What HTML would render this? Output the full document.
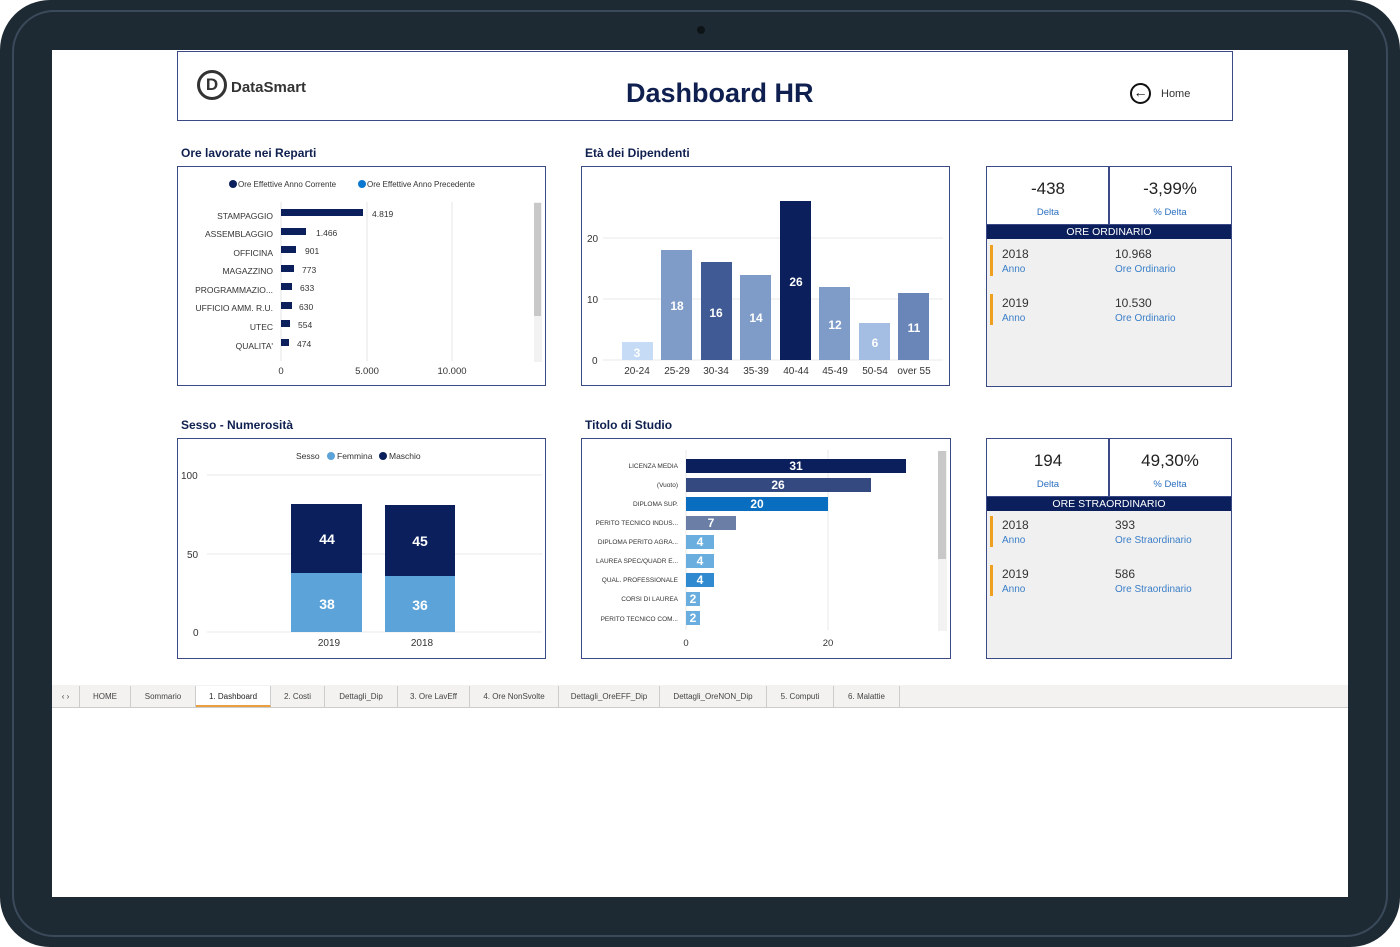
<!DOCTYPE html><html><head><meta charset="utf-8"><style>
*{margin:0;padding:0;box-sizing:border-box}
body{width:1400px;height:947px;background:#fff;position:relative;overflow:hidden;font-family:"Liberation Sans",sans-serif;color:#1a2a5a}
.a{position:absolute}
.box{position:absolute;border:1.5px solid #3b4a86;background:#fff}
.t{position:absolute;font-weight:bold;font-size:12px;color:#0f1f4f}
.sm{font-size:9px;color:#333}
.tab{position:absolute;top:686px;height:21px;font-size:8px;color:#444;text-align:center;line-height:21px;border-right:1px solid #ccc}
</style></head><body>
<div class="a" style="left:0;top:0;width:1400px;height:947px;background:#1e2a33;border-radius:50px"></div>
<div class="a" style="left:12px;top:10px;width:1376px;height:927px;border:2px solid #3a4a5a;border-radius:42px"></div>
<div class="a" style="left:697px;top:26px;width:8px;height:8px;border-radius:50%;background:#0d1418"></div>
<div class="a" style="left:52px;top:50px;width:1296px;height:847px;background:#fff"></div>

<div class="box" style="left:177px;top:51px;width:1056px;height:70px"></div>
<div class="a" style="left:197px;top:70px;width:30px;height:30px;border:3px solid #333;border-radius:50%;font-weight:bold;font-size:17px;text-align:center;line-height:24px;color:#333">D</div>
<div class="a" style="left:231px;top:79px;font-weight:bold;font-size:15px;color:#333">DataSmart</div>
<div class="a" style="left:626px;top:78px;font-weight:bold;font-size:27px;color:#0f1f4f">Dashboard HR</div>
<div class="a" style="left:1130px;top:83px;width:21px;height:21px;border:2.5px solid #111;border-radius:50%;font-size:14px;line-height:15px;text-align:center;font-weight:bold;color:#111">←</div>
<div class="a" style="left:1161px;top:88px;font-size:11px;color:#333">Home</div>

<div class="t" style="left:181px;top:146px">Ore lavorate nei Reparti</div>
<div class="t" style="left:585px;top:146px">Età dei Dipendenti</div>
<div class="t" style="left:181px;top:418px">Sesso - Numerosità</div>
<div class="t" style="left:585px;top:418px">Titolo di Studio</div>

<!-- Ore chart -->
<div class="box" style="left:177px;top:166px;width:369px;height:220px"></div>
<svg class="a" style="left:177px;top:166px" width="369" height="220" font-family="Liberation Sans" font-size="8.5" fill="#333">
<circle cx="56" cy="18" r="4" fill="#0a1f5c"/><text x="61" y="21" font-size="8">Ore Effettive Anno Corrente</text>
<circle cx="185" cy="18" r="4" fill="#0a78d0"/><text x="190" y="21" font-size="8">Ore Effettive Anno Precedente</text>
<g stroke="#e5e5e5"><line x1="104" y1="36" x2="104" y2="195"/><line x1="190" y1="36" x2="190" y2="195"/><line x1="275" y1="36" x2="275" y2="195"/></g>
<rect x="357" y="36" width="8" height="160" fill="#f2f2f2"/><rect x="357" y="37" width="7" height="113" fill="#c8c8c8"/>
<g fill="#0a1f5c"><rect x="104" y="43" width="82" height="7"/><rect x="104" y="62" width="25" height="7"/><rect x="104" y="80" width="15" height="7"/><rect x="104" y="99" width="13" height="7"/><rect x="104" y="117" width="11" height="7"/><rect x="104" y="136" width="11" height="7"/><rect x="104" y="154" width="9" height="7"/><rect x="104" y="173" width="8" height="7"/></g>
<g text-anchor="end"><text x="96" y="53">STAMPAGGIO</text><text x="96" y="71">ASSEMBLAGGIO</text><text x="96" y="90">OFFICINA</text><text x="96" y="108">MAGAZZINO</text><text x="96" y="127">PROGRAMMAZIO...</text><text x="96" y="145">UFFICIO AMM. R.U.</text><text x="96" y="164">UTEC</text><text x="96" y="183">QUALITA'</text></g>
<text x="195" y="51">4.819</text><text x="139" y="70">1.466</text><text x="128" y="88">901</text><text x="125" y="107">773</text><text x="123" y="125">633</text><text x="122" y="144">630</text><text x="121" y="162">554</text><text x="120" y="181">474</text>
<g text-anchor="middle" font-size="9.5"><text x="104" y="208">0</text><text x="190" y="208">5.000</text><text x="275" y="208">10.000</text></g>
</svg>

<!-- Eta chart -->
<div class="box" style="left:581px;top:166px;width:369px;height:220px"></div>
<svg class="a" style="left:581px;top:166px" width="369" height="220" font-family="Liberation Sans" font-size="10" fill="#333">
<g stroke="#e8e8e8"><line x1="22" y1="72" x2="362" y2="72"/><line x1="22" y1="133" x2="362" y2="133"/><line x1="22" y1="194" x2="362" y2="194"/></g>
<text x="6" y="76">20</text><text x="6" y="137">10</text><text x="11" y="198">0</text>
<rect x="41" y="176" width="31" height="18" fill="#c6dbf5"/>
<rect x="80" y="84" width="31" height="110" fill="#7f9cc8"/>
<rect x="120" y="96" width="31" height="98" fill="#3f5a94"/>
<rect x="159" y="109" width="31" height="85" fill="#7f9cc8"/>
<rect x="199" y="35" width="31" height="159" fill="#0a1f5c"/>
<rect x="238" y="121" width="31" height="73" fill="#7f9cc8"/>
<rect x="278" y="157" width="31" height="37" fill="#a4bde3"/>
<rect x="317" y="127" width="31" height="67" fill="#6a86b8"/>
<g fill="#fff" font-size="12" font-weight="bold" text-anchor="middle"><text x="56" y="191">3</text><text x="96" y="144">18</text><text x="135" y="151">16</text><text x="175" y="156">14</text><text x="215" y="120">26</text><text x="254" y="163">12</text><text x="294" y="181">6</text><text x="333" y="166">11</text></g>
<g text-anchor="middle"><text x="56" y="208">20-24</text><text x="96" y="208">25-29</text><text x="135" y="208">30-34</text><text x="175" y="208">35-39</text><text x="215" y="208">40-44</text><text x="254" y="208">45-49</text><text x="294" y="208">50-54</text><text x="333" y="208">over 55</text></g>
</svg>

<!-- Sesso -->
<div class="box" style="left:177px;top:438px;width:369px;height:221px"></div>
<svg class="a" style="left:177px;top:438px" width="369" height="221" font-family="Liberation Sans" font-size="10" fill="#333">
<text x="119" y="21" font-size="8.5">Sesso</text><circle cx="154" cy="18" r="4" fill="#5ba3d9"/><text x="160" y="21" font-size="8.5">Femmina</text><circle cx="206" cy="18" r="4" fill="#0a1f5c"/><text x="212" y="21" font-size="8.5">Maschio</text>
<g stroke="#e8e8e8"><line x1="30" y1="37" x2="365" y2="37"/><line x1="30" y1="116" x2="365" y2="116"/><line x1="30" y1="194" x2="365" y2="194"/></g>
<text x="4" y="41">100</text><text x="10" y="120">50</text><text x="16" y="198">0</text>
<rect x="114" y="135" width="71" height="59" fill="#5ba3d9"/><rect x="114" y="66" width="71" height="69" fill="#0a1f5c"/>
<rect x="208" y="138" width="70" height="56" fill="#5ba3d9"/><rect x="208" y="67" width="70" height="71" fill="#0a1f5c"/>
<g fill="#fff" font-size="14" font-weight="bold" text-anchor="middle"><text x="150" y="106">44</text><text x="150" y="171">38</text><text x="243" y="108">45</text><text x="243" y="172">36</text></g>
<g text-anchor="middle"><text x="152" y="208">2019</text><text x="245" y="208">2018</text></g>
</svg>

<!-- Titolo -->
<div class="box" style="left:581px;top:438px;width:370px;height:221px"></div>
<svg class="a" style="left:581px;top:438px" width="370" height="221" font-family="Liberation Sans" font-size="6.5" fill="#333">
<g stroke="#e8e8e8"><line x1="105" y1="12" x2="105" y2="192"/><line x1="247" y1="12" x2="247" y2="192"/></g>
<rect x="357" y="13" width="9" height="180" fill="#f2f2f2"/><rect x="357" y="13" width="8" height="108" fill="#c8c8c8"/>
<rect x="105" y="21" width="220" height="14" fill="#0a1f5c"/>
<rect x="105" y="40" width="185" height="14" fill="#34497f"/>
<rect x="105" y="59" width="142" height="14" fill="#0a6ec0"/>
<rect x="105" y="78" width="50" height="14" fill="#6a7ea6"/>
<rect x="105" y="97" width="28" height="14" fill="#6aaee0"/>
<rect x="105" y="116" width="28" height="14" fill="#6aaee0"/>
<rect x="105" y="135" width="28" height="14" fill="#2f8ad0"/>
<rect x="105" y="154" width="14" height="14" fill="#6aaee0"/>
<rect x="105" y="173" width="14" height="14" fill="#6aaee0"/>
<g fill="#fff" font-size="12" font-weight="bold" text-anchor="middle"><text x="215" y="32">31</text><text x="197" y="51">26</text><text x="176" y="70">20</text><text x="130" y="89">7</text><text x="119" y="108">4</text><text x="119" y="127">4</text><text x="119" y="146">4</text><text x="112" y="165">2</text><text x="112" y="184">2</text></g>
<g text-anchor="end"><text x="97" y="30">LICENZA MEDIA</text><text x="97" y="49">(Vuoto)</text><text x="97" y="68">DIPLOMA SUP.</text><text x="97" y="87">PERITO TECNICO INDUS...</text><text x="97" y="106">DIPLOMA PERITO AGRA...</text><text x="97" y="125">LAUREA SPEC/QUADR E...</text><text x="97" y="144">QUAL. PROFESSIONALE</text><text x="97" y="163">CORSI DI LAUREA</text><text x="97" y="183">PERITO TECNICO COM...</text></g>
<g text-anchor="middle" font-size="9.5"><text x="105" y="208">0</text><text x="247" y="208">20</text></g>
</svg>

<!-- KPI 1 -->
<div class="box" style="left:986px;top:166px;width:246px;height:221px;background:#f0f0f0"></div>
<div class="a" style="left:987px;top:167px;width:244px;height:58px;background:#fff;border-bottom:1.5px solid #3b4a86"></div>
<div class="a" style="left:1108px;top:167px;width:1.5px;height:58px;background:#3b4a86"></div>
<div class="a" style="left:987px;top:179px;width:122px;text-align:center;font-size:17px;color:#222">-438</div>
<div class="a" style="left:1109px;top:179px;width:122px;text-align:center;font-size:17px;color:#222">-3,99%</div>
<div class="a" style="left:987px;top:207px;width:122px;text-align:center;font-size:9.5px;color:#2a6fc0">Delta</div>
<div class="a" style="left:1109px;top:207px;width:122px;text-align:center;font-size:9.5px;color:#2a6fc0">% Delta</div>
<div class="a" style="left:987px;top:225px;width:244px;height:14px;background:#0a1f5c;color:#fff;font-size:10.5px;text-align:center;line-height:14px">ORE ORDINARIO</div>
<div class="a" style="left:990px;top:245px;width:3px;height:31px;background:#f0a020"></div>
<div class="a" style="left:990px;top:294px;width:3px;height:31px;background:#f0a020"></div>
<div class="a" style="left:1002px;top:247px;font-size:12px;color:#333">2018</div><div class="a" style="left:1002px;top:264px;font-size:10px;color:#3a7fc8">Anno</div>
<div class="a" style="left:1115px;top:247px;font-size:12px;color:#333">10.968</div><div class="a" style="left:1115px;top:264px;font-size:10px;color:#3a7fc8">Ore Ordinario</div>
<div class="a" style="left:1002px;top:296px;font-size:12px;color:#333">2019</div><div class="a" style="left:1002px;top:313px;font-size:10px;color:#3a7fc8">Anno</div>
<div class="a" style="left:1115px;top:296px;font-size:12px;color:#333">10.530</div><div class="a" style="left:1115px;top:313px;font-size:10px;color:#3a7fc8">Ore Ordinario</div>

<!-- KPI 2 -->
<div class="box" style="left:986px;top:438px;width:246px;height:221px;background:#f0f0f0"></div>
<div class="a" style="left:987px;top:439px;width:244px;height:58px;background:#fff;border-bottom:1.5px solid #3b4a86"></div>
<div class="a" style="left:1108px;top:439px;width:1.5px;height:58px;background:#3b4a86"></div>
<div class="a" style="left:987px;top:451px;width:122px;text-align:center;font-size:17px;color:#222">194</div>
<div class="a" style="left:1109px;top:451px;width:122px;text-align:center;font-size:17px;color:#222">49,30%</div>
<div class="a" style="left:987px;top:479px;width:122px;text-align:center;font-size:9.5px;color:#2a6fc0">Delta</div>
<div class="a" style="left:1109px;top:479px;width:122px;text-align:center;font-size:9.5px;color:#2a6fc0">% Delta</div>
<div class="a" style="left:987px;top:497px;width:244px;height:14px;background:#0a1f5c;color:#fff;font-size:10.5px;text-align:center;line-height:14px">ORE STRAORDINARIO</div>
<div class="a" style="left:990px;top:516px;width:3px;height:31px;background:#f0a020"></div>
<div class="a" style="left:990px;top:565px;width:3px;height:31px;background:#f0a020"></div>
<div class="a" style="left:1002px;top:518px;font-size:12px;color:#333">2018</div><div class="a" style="left:1002px;top:535px;font-size:10px;color:#3a7fc8">Anno</div>
<div class="a" style="left:1115px;top:518px;font-size:12px;color:#333">393</div><div class="a" style="left:1115px;top:535px;font-size:10px;color:#3a7fc8">Ore Straordinario</div>
<div class="a" style="left:1002px;top:567px;font-size:12px;color:#333">2019</div><div class="a" style="left:1002px;top:584px;font-size:10px;color:#3a7fc8">Anno</div>
<div class="a" style="left:1115px;top:567px;font-size:12px;color:#333">586</div><div class="a" style="left:1115px;top:584px;font-size:10px;color:#3a7fc8">Ore Straordinario</div>

<!-- tabs -->
<div class="a" style="left:52px;top:685px;width:1296px;height:23px;background:#f3f2f1;border-bottom:1.5px solid #ccc"></div>
<div class="tab" style="left:52px;width:28px">‹ ›</div>
<div class="tab" style="left:80px;width:51px">HOME</div>
<div class="tab" style="left:131px;width:65px">Sommario</div>
<div class="tab" style="left:196px;width:75px;background:#fff;border-bottom:2px solid #e8a040;color:#222">1. Dashboard</div>
<div class="tab" style="left:271px;width:54px">2. Costi</div>
<div class="tab" style="left:325px;width:73px">Dettagli_Dip</div>
<div class="tab" style="left:398px;width:72px">3. Ore LavEff</div>
<div class="tab" style="left:470px;width:89px">4. Ore NonSvolte</div>
<div class="tab" style="left:559px;width:101px">Dettagli_OreEFF_Dip</div>
<div class="tab" style="left:660px;width:107px">Dettagli_OreNON_Dip</div>
<div class="tab" style="left:767px;width:67px">5. Computi</div>
<div class="tab" style="left:834px;width:66px">6. Malattie</div>
</body></html>
